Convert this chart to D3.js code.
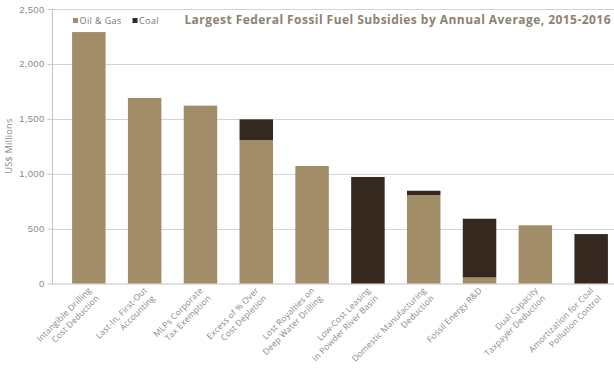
<!DOCTYPE html>
<html lang="en">
<head>
    <meta charset="UTF-8">
    <title>Largest Federal Fossil Fuel Subsidies</title>
    <script src="https://d3js.org/d3.v7.min.js"></script>
    <style>
        body {
            margin: 0;
            background: #fff;
            font-family: "Open Sans", Arial, sans-serif;
        }
        svg { display: block; }
        .grid line { stroke: #d3d3d3; stroke-width: 1px; }
        .y-axis text { fill: #8a8a8a; font-size: 9.5px; letter-spacing: 0.3px; }
        .x-label { fill: #8a8a8a; font-size: 8.5px; letter-spacing: 0.15px; }
        .title { fill: #8c8272; font-size: 12px; font-weight: bold; letter-spacing: 0.45px; }
        .legend text { fill: #777; font-size: 9px; letter-spacing: 0.4px; }
    </style>
</head>
<body>
    <div id="chart"></div>

    <script>
        const width = 614;
        const height = 372;

        // Dados (US$ milhões, média anual 2015-2016)
        const labels = [
            ["Intangible Drilling", "Cost Deduction"],
            ["Last-In, First-Out", "Accounting"],
            ["MLPs Corporate", "Tax Exemption"],
            ["Excess of % Over", "Cost Depletion"],
            ["Lost Royalties on", "Deep Water Drilling"],
            ["Low-Cost Leasing", "in Powder River Basin"],
            ["Domestic Manufacturing", "Deduction"],
            ["Fossil Energy R&D"],
            ["Dual Capacity", "Taxpayer Deduction"],
            ["Amortization for Coal", "Pollution Control"]
        ];
        const oilGas = [2290, 1690, 1620, 1305, 1070, 0, 805, 55, 530, 0];
        const coal = [0, 0, 0, 190, 0, 970, 40, 535, 0, 450];
        const yTicks = [0, 500, 1000, 1500, 2000, 2500];
        const seriesNames = ["Oil & Gas", "Coal"];
        const colors = ["#a28d69", "#35291f"];

        const rows = labels.map((l, i) => ({ key: i, label: l, oil: oilGas[i], coal: coal[i] }));

        const svg = d3.select("#chart").append("svg")
            .attr("width", width)
            .attr("height", height);

        const x = d3.scaleBand()
            .domain(rows.map(d => d.key))
            .range([52, 628])
            .paddingInner(0.4)
            .paddingOuter(0.36);

        const y = d3.scaleLinear()
            .domain([0, 2500])
            .range([283.5, 9]);

        // Linhas de grade
        svg.append("g")
            .attr("class", "grid")
            .selectAll("line")
            .data(yTicks.filter(t => t > 0))
            .enter()
            .append("line")
            .attr("x1", 52)
            .attr("x2", width)
            .attr("y1", d => Math.round(y(d)) + 0.5)
            .attr("y2", d => Math.round(y(d)) + 0.5);

        // Eixo y
        const yAxis = svg.append("g")
            .attr("class", "y-axis")
            .attr("transform", "translate(52.5,0)")
            .call(d3.axisLeft(y).tickValues(yTicks).tickSize(5).tickPadding(3).tickFormat(d3.format(",")));
        yAxis.selectAll("line, path").attr("stroke", "#c4c4c4");
        yAxis.select(".domain").attr("d", `M0,${y(2500)}V${y(0)}`);

        // Linha base
        svg.append("line")
            .attr("x1", 52).attr("x2", width)
            .attr("y1", y(0) + 0.5).attr("y2", y(0) + 0.5)
            .attr("stroke", "#c4c4c4");

        svg.append("text")
            .attr("class", "y-axis-title")
            .attr("transform", "translate(12,146) rotate(-90)")
            .attr("text-anchor", "middle")
            .attr("fill", "#8a8a8a")
            .attr("font-size", 9)
            .attr("letter-spacing", 0.3)
            .text("US$ Millions");

        // Barras empilhadas
        const stack = d3.stack().keys(["oil", "coal"]);
        const layers = stack(rows);

        svg.append("g")
            .selectAll("g")
            .data(layers)
            .enter()
            .append("g")
            .attr("fill", (d, i) => colors[i])
            .selectAll("rect")
            .data(d => d.filter(s => s[1] > s[0]))
            .enter()
            .append("rect")
            .attr("x", d => x(d.data.key))
            .attr("width", x.bandwidth())
            .attr("y", d => y(d[1]))
            .attr("height", d => y(d[0]) - y(d[1]));

        // Rótulos do eixo x
        const xl = svg.append("g")
            .selectAll("text")
            .data(rows)
            .enter()
            .append("text")
            .attr("class", "x-label")
            .attr("text-anchor", "end")
            .attr("transform", d => `translate(${x(d.key) + x.bandwidth() / 2 + 3},291) rotate(-45)`);

        xl.selectAll("tspan")
            .data(d => d.label)
            .enter()
            .append("tspan")
            .attr("x", 0)
            .attr("dy", (d, i) => i === 0 ? 0 : 11)
            .text(d => d);

        // Título
        svg.append("text")
            .attr("class", "title")
            .attr("x", 611)
            .attr("y", 24)
            .attr("text-anchor", "end")
            .text("Largest Federal Fossil Fuel Subsidies by Annual Average, 2015-2016");

        // Legenda
        const legend = svg.append("g").attr("class", "legend");
        const legendX = [73, 132.5];
        seriesNames.forEach((name, i) => {
            legend.append("rect")
                .attr("x", legendX[i])
                .attr("y", 18)
                .attr("width", 5)
                .attr("height", 5)
                .attr("fill", colors[i]);
            legend.append("text")
                .attr("x", legendX[i] + 6.5)
                .attr("y", 23.5)
                .text(name);
        });
    </script>
</body>
</html>
